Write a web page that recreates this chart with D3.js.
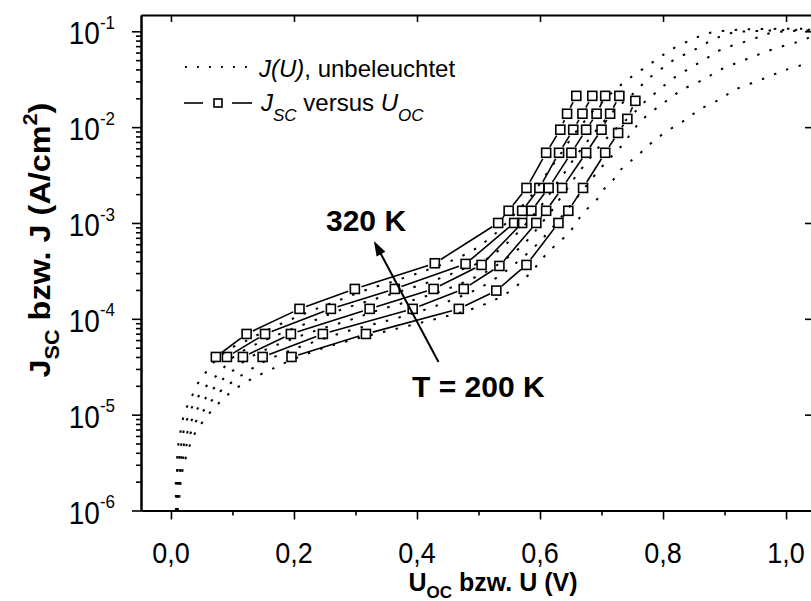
<!DOCTYPE html>
<html><head><meta charset="utf-8">
<script src="https://cdn.jsdelivr.net/npm/d3@7"></script>
<style>
body{margin:0;background:#fff}
svg{display:block}
text{font-family:"Liberation Sans",Arial,Helvetica,sans-serif;fill:#000}
</style>
</head><body>
<svg id="c" width="811" height="601"></svg>
<script>
// ---------- data ----------
const temps = ["320 K", "290 K", "260 K", "230 K", "200 K"];

// Jsc versus Uoc (squares), one array per temperature
const uoc320 = [0.073, 0.123, 0.209, 0.299, 0.429, 0.532, 0.549, 0.578, 0.610, 0.633, 0.644, 0.659];
const uoc290 = [0.091, 0.153, 0.260, 0.364, 0.479, 0.558, 0.571, 0.599, 0.631, 0.654, 0.669, 0.685];
const uoc260 = [0.117, 0.195, 0.323, 0.427, 0.505, 0.571, 0.586, 0.614, 0.651, 0.675, 0.692, 0.706];
const uoc230 = [0.149, 0.247, 0.393, 0.476, 0.534, 0.594, 0.610, 0.636, 0.675, 0.700, 0.714, 0.729];
const uoc200 = [0.196, 0.317, 0.468, 0.529, 0.578, 0.630, 0.646, 0.670, 0.706, 0.727, 0.742, 0.755];

const jsc320 = [4.0e-5, 6.95e-5, 1.27e-4, 2.05e-4, 3.8e-4, 1.0e-3, 1.34e-3, 2.32e-3, 5.4e-3, 9.4e-3, 1.38e-2, 2.12e-2];
const jsc290 = [4.0e-5, 6.95e-5, 1.27e-4, 2.05e-4, 3.74e-4, 1.0e-3, 1.34e-3, 2.32e-3, 5.4e-3, 9.4e-3, 1.38e-2, 2.12e-2];
const jsc260 = [4.0e-5, 6.95e-5, 1.27e-4, 2.05e-4, 3.65e-4, 1.0e-3, 1.34e-3, 2.32e-3, 5.4e-3, 9.4e-3, 1.38e-2, 2.12e-2];
const jsc230 = [4.0e-5, 6.95e-5, 1.27e-4, 2.05e-4, 3.56e-4, 1.0e-3, 1.34e-3, 2.32e-3, 5.4e-3, 9.4e-3, 1.38e-2, 2.12e-2];
const jsc200 = [4.0e-5, 6.95e-5, 1.27e-4, 1.97e-4, 3.65e-4, 1.0e-3, 1.34e-3, 2.32e-3, 5.4e-3, 8.7e-3, 1.22e-2, 1.88e-2];

// dark J(U) curves: current levels shared, voltage per temperature
const darkJ = [1.0e-6, 1.29e-6, 1.64e-6, 2.08e-6, 2.65e-6, 3.37e-6, 4.28e-6, 5.45e-6, 6.92e-6, 8.81e-6,
  1.12e-5, 1.42e-5, 1.81e-5, 2.30e-5, 2.93e-5, 3.72e-5, 4.74e-5, 6.02e-5, 7.66e-5, 9.73e-5,
  1.24e-4, 1.57e-4, 2.00e-4, 2.55e-4, 3.24e-4, 4.12e-4, 5.24e-4, 6.66e-4, 8.47e-4, 1.08e-3,
  1.37e-3, 1.74e-3, 2.22e-3, 2.82e-3, 3.58e-3, 4.56e-3, 5.80e-3, 7.37e-3, 9.37e-3, 1.19e-2,
  1.52e-2, 1.93e-2, 2.45e-2, 3.12e-2, 3.96e-2, 5.04e-2, 6.41e-2, 8.15e-2];
const dark320U = [0.008,0.008,0.008,0.008,0.010,0.010,0.011,0.013,0.016,0.019,0.024,0.031,0.039,0.047,0.060,0.073,0.093,0.125,0.157,0.193,0.232,0.274,0.317,0.369,0.417,0.459,0.492,0.515,0.534,0.550,0.565,0.580,0.593,0.604,0.615,0.627,0.638,0.649,0.661,0.674,0.688,0.705,0.722,0.742,0.765,0.789,0.813,0.846];
const dark290U = [0.008,0.010,0.010,0.010,0.011,0.013,0.015,0.018,0.021,0.026,0.032,0.041,0.052,0.067,0.083,0.096,0.120,0.154,0.193,0.235,0.276,0.326,0.380,0.430,0.472,0.511,0.534,0.552,0.568,0.583,0.596,0.609,0.620,0.631,0.643,0.654,0.666,0.679,0.692,0.706,0.722,0.740,0.758,0.774,0.795,0.818,0.851,0.881];
const dark260U = [0.010,0.010,0.011,0.013,0.015,0.016,0.019,0.023,0.028,0.034,0.042,0.054,0.067,0.083,0.102,0.122,0.153,0.193,0.239,0.291,0.339,0.394,0.445,0.485,0.518,0.542,0.563,0.580,0.594,0.607,0.620,0.631,0.643,0.654,0.666,0.679,0.692,0.706,0.722,0.740,0.758,0.774,0.794,0.813,0.839,0.867,0.894,0.943];
const dark230U = [0.010,0.011,0.013,0.015,0.016,0.019,0.023,0.028,0.034,0.042,0.054,0.067,0.083,0.104,0.128,0.157,0.196,0.242,0.294,0.356,0.412,0.456,0.495,0.524,0.547,0.567,0.586,0.602,0.617,0.631,0.644,0.657,0.670,0.683,0.696,0.711,0.727,0.740,0.752,0.766,0.786,0.808,0.831,0.865,0.893,0.933,0.976,1.029];
const dark200U = [0.011,0.013,0.015,0.016,0.019,0.023,0.028,0.034,0.042,0.054,0.067,0.083,0.102,0.128,0.161,0.196,0.239,0.294,0.359,0.424,0.485,0.526,0.554,0.573,0.589,0.602,0.617,0.635,0.651,0.662,0.675,0.692,0.703,0.719,0.731,0.750,0.769,0.787,0.810,0.836,0.859,0.891,0.917,0.959,1.000];
// saturation tails [U, J]
const dark320Tail = [[0.875, 0.096], [0.924, 0.104], [1.04, 0.106]];
const dark290Tail = [[0.911, 0.096], [0.956, 0.101], [1.04, 0.104]];
const dark260Tail = [[0.976, 0.096], [1.013, 0.101], [1.04, 0.102]];
const dark230Tail = [[1.04, 0.088]];
const dark200Tail = [[1.04, 0.047]];

// axes
const xTicks = [0, 0.2, 0.4, 0.6, 0.8, 1.0];
const xTickLabels = ["0,0", "0,2", "0,4", "0,6", "0,8", "1,0"];
const xMinorTicks = [0.1, 0.3, 0.5, 0.7, 0.9];
const yTickExps = [-6, -5, -4, -3, -2, -1];

// annotations
const arrowFrom = [0.435, 3.55e-5];
const arrowTo = [0.330, 6.5e-4];

// ---------- drawing ----------
const svg = d3.select("#c");
const x = d3.scaleLinear().domain([-0.0487, 1.0422]).range([141, 812]);
const y = d3.scaleLog().domain([1e-6, Math.pow(10, -0.83)]).range([510.5, 15]);

svg.append("defs").append("clipPath").attr("id", "clip")
  .append("rect").attr("x", 141).attr("y", 15).attr("width", 671).attr("height", 495.5);

const plot = svg.append("g").attr("clip-path", "url(#clip)");

const uocAll = [uoc320, uoc290, uoc260, uoc230, uoc200];
const jscAll = [jsc320, jsc290, jsc260, jsc230, jsc200];
const darkUAll = [dark320U, dark290U, dark260U, dark230U, dark200U];
const darkTails = [dark320Tail, dark290Tail, dark260Tail, dark230Tail, dark200Tail];

// dark curves
const lineGen = d3.line().x(d => x(d[0])).y(d => y(d[1])).curve(d3.curveCatmullRom.alpha(0.5));
darkUAll.forEach((us, i) => {
  const pts = us.map((u, k) => [u, darkJ[k]]).concat(darkTails[i]);
  plot.append("path").attr("d", lineGen(pts))
    .attr("fill", "none").attr("stroke", "#000").attr("stroke-width", 2)
    .attr("stroke-dasharray", "2.5 10.5");
});

// Jsc-Uoc connecting lines (gapped) and squares
const sq = 9, gap = 7;
uocAll.forEach((us, i) => {
  const js = jscAll[i];
  const P = us.map((u, k) => [x(u), y(js[k])]);
  for (let k = 0; k < P.length - 1; k++) {
    const [x1, y1] = P[k], [x2, y2] = P[k + 1];
    const dx = x2 - x1, dy = y2 - y1, L = Math.hypot(dx, dy);
    if (L <= 2 * gap + 1) continue;
    const ux = dx / L, uy = dy / L;
    plot.append("line")
      .attr("x1", x1 + ux * gap).attr("y1", y1 + uy * gap)
      .attr("x2", x2 - ux * gap).attr("y2", y2 - uy * gap)
      .attr("stroke", "#000").attr("stroke-width", 1.6);
  }
  plot.selectAll(null).data(P).enter().append("rect")
    .attr("x", d => d[0] - sq / 2).attr("y", d => d[1] - sq / 2)
    .attr("width", sq).attr("height", sq)
    .attr("fill", "none").attr("stroke", "#000").attr("stroke-width", 1.6);
});

// axes
function styleAxis(g) {
  g.selectAll("path.domain").attr("stroke-width", 2);
  g.selectAll(".tick line").attr("stroke-width", 1.6);
}
const yMinor = [];
yTickExps.forEach(e => { for (let k = 2; k <= 9; k++) { const v = k * Math.pow(10, e); if (v < y.domain()[1]) yMinor.push(v); } });
const yMajor = yTickExps.map(e => Math.pow(10, e));

svg.append("g").attr("transform", "translate(0,510.5)")
  .call(d3.axisBottom(x).tickValues(xMinorTicks).tickSize(5).tickSizeOuter(0).tickFormat(""))
  .call(styleAxis);
svg.append("g").attr("transform", "translate(0,510.5)")
  .call(d3.axisBottom(x).tickValues(xTicks).tickSize(9).tickSizeOuter(0).tickFormat(""))
  .call(styleAxis);
svg.append("g").attr("transform", "translate(0,15)")
  .call(d3.axisTop(x).tickValues(xTicks).tickSize(-7).tickSizeOuter(0).tickFormat(""))
  .call(styleAxis);
svg.append("g").attr("transform", "translate(141,0)")
  .call(d3.axisLeft(y).tickValues(yMinor).tickSize(5).tickSizeOuter(0).tickFormat(""))
  .call(styleAxis);
svg.append("g").attr("transform", "translate(141,0)")
  .call(d3.axisLeft(y).tickValues(yMajor).tickSize(9).tickSizeOuter(0).tickFormat(""))
  .call(styleAxis);
svg.append("g").attr("transform", "translate(812,0)")
  .call(d3.axisRight(y).tickValues(yMajor).tickSize(-7).tickSizeOuter(0).tickFormat(""))
  .call(styleAxis);

// x tick labels (slightly tall glyphs as in the original)
const stretch = 1.1;
xTicks.forEach((v, i) => {
  svg.append("text").attr("transform", `translate(${x(v)},563) scale(1,${stretch})`)
    .attr("text-anchor", "middle").attr("font-size", 27).text(xTickLabels[i]);
});
// y tick labels 10^n
yTickExps.forEach(e => {
  const t = svg.append("text").attr("transform", `translate(115,${y(Math.pow(10, e)) + 13}) scale(1,${stretch})`)
    .attr("text-anchor", "end").attr("font-size", 28);
  t.append("tspan").text("10");
  t.append("tspan").attr("font-size", 17).attr("dy", -14).text(String(e));
});

// axis titles
const xt = svg.append("text").attr("x", 493).attr("y", 591).attr("text-anchor", "middle")
  .attr("font-size", 25).attr("font-weight", "bold");
xt.append("tspan").text("U");
xt.append("tspan").attr("font-size", 17).attr("dy", 7).text("OC");
xt.append("tspan").attr("dy", -7).text(" bzw. U (V)");

const yt = svg.append("text").attr("transform", "translate(50,240) rotate(-90) scale(1.08,1)")
  .attr("text-anchor", "middle").attr("font-size", 30).attr("font-weight", "bold");
yt.append("tspan").text("J");
yt.append("tspan").attr("font-size", 20).attr("dy", 9).text("SC");
yt.append("tspan").attr("dy", -9).text(" bzw. J (A/cm");
yt.append("tspan").attr("font-size", 20).attr("dy", -13).text("2");
yt.append("tspan").attr("dy", 13).text(")");

// legend
svg.append("line").attr("x1", 185).attr("x2", 252).attr("y1", 67).attr("y2", 67)
  .attr("stroke", "#000").attr("stroke-width", 1.8).attr("stroke-dasharray", "1.8 10.2");
const l1 = svg.append("text").attr("x", 259).attr("y", 77).attr("font-size", 24);
l1.append("tspan").attr("font-style", "italic").text("J(U)");
l1.append("tspan").text(", unbeleuchtet");

svg.append("line").attr("x1", 184).attr("x2", 203).attr("y1", 103).attr("y2", 103).attr("stroke", "#000").attr("stroke-width", 1.6);
svg.append("rect").attr("x", 214).attr("y", 99).attr("width", 8).attr("height", 8).attr("fill", "none").attr("stroke", "#000").attr("stroke-width", 1.6);
svg.append("line").attr("x1", 232).attr("x2", 252).attr("y1", 103).attr("y2", 103).attr("stroke", "#000").attr("stroke-width", 1.6);
const l2 = svg.append("text").attr("x", 261).attr("y", 111).attr("font-size", 24);
l2.append("tspan").attr("font-style", "italic").text("J");
l2.append("tspan").attr("font-style", "italic").attr("font-size", 17).attr("dy", 10).text("SC");
l2.append("tspan").attr("dy", -10).text(" versus ");
l2.append("tspan").attr("font-style", "italic").text("U");
l2.append("tspan").attr("font-style", "italic").attr("font-size", 17).attr("dy", 10).text("OC");

// temperature annotations and arrow
svg.append("text").attr("x", 326).attr("y", 231).attr("font-size", 30).attr("font-weight", "bold").text(temps[0]);
svg.append("text").attr("x", 412).attr("y", 397).attr("font-size", 30).attr("font-weight", "bold").text("T = " + temps[4]);

const ax1 = x(arrowFrom[0]), ay1 = y(arrowFrom[1]), ax2 = x(arrowTo[0]), ay2 = y(arrowTo[1]);
const adx = ax2 - ax1, ady = ay2 - ay1, aL = Math.hypot(adx, ady);
const aux = adx / aL, auy = ady / aL;
const hl = 15, hw = 5;
svg.append("line").attr("x1", ax1).attr("y1", ay1).attr("x2", ax2 - aux * hl * 0.8).attr("y2", ay2 - auy * hl * 0.8)
  .attr("stroke", "#000").attr("stroke-width", 2);
const bx = ax2 - aux * hl, by = ay2 - auy * hl;
svg.append("path")
  .attr("d", `M${ax2},${ay2}L${bx - auy * hw},${by + aux * hw}L${bx + auy * hw},${by - aux * hw}Z`)
  .attr("fill", "#000");
</script>
</body></html>
